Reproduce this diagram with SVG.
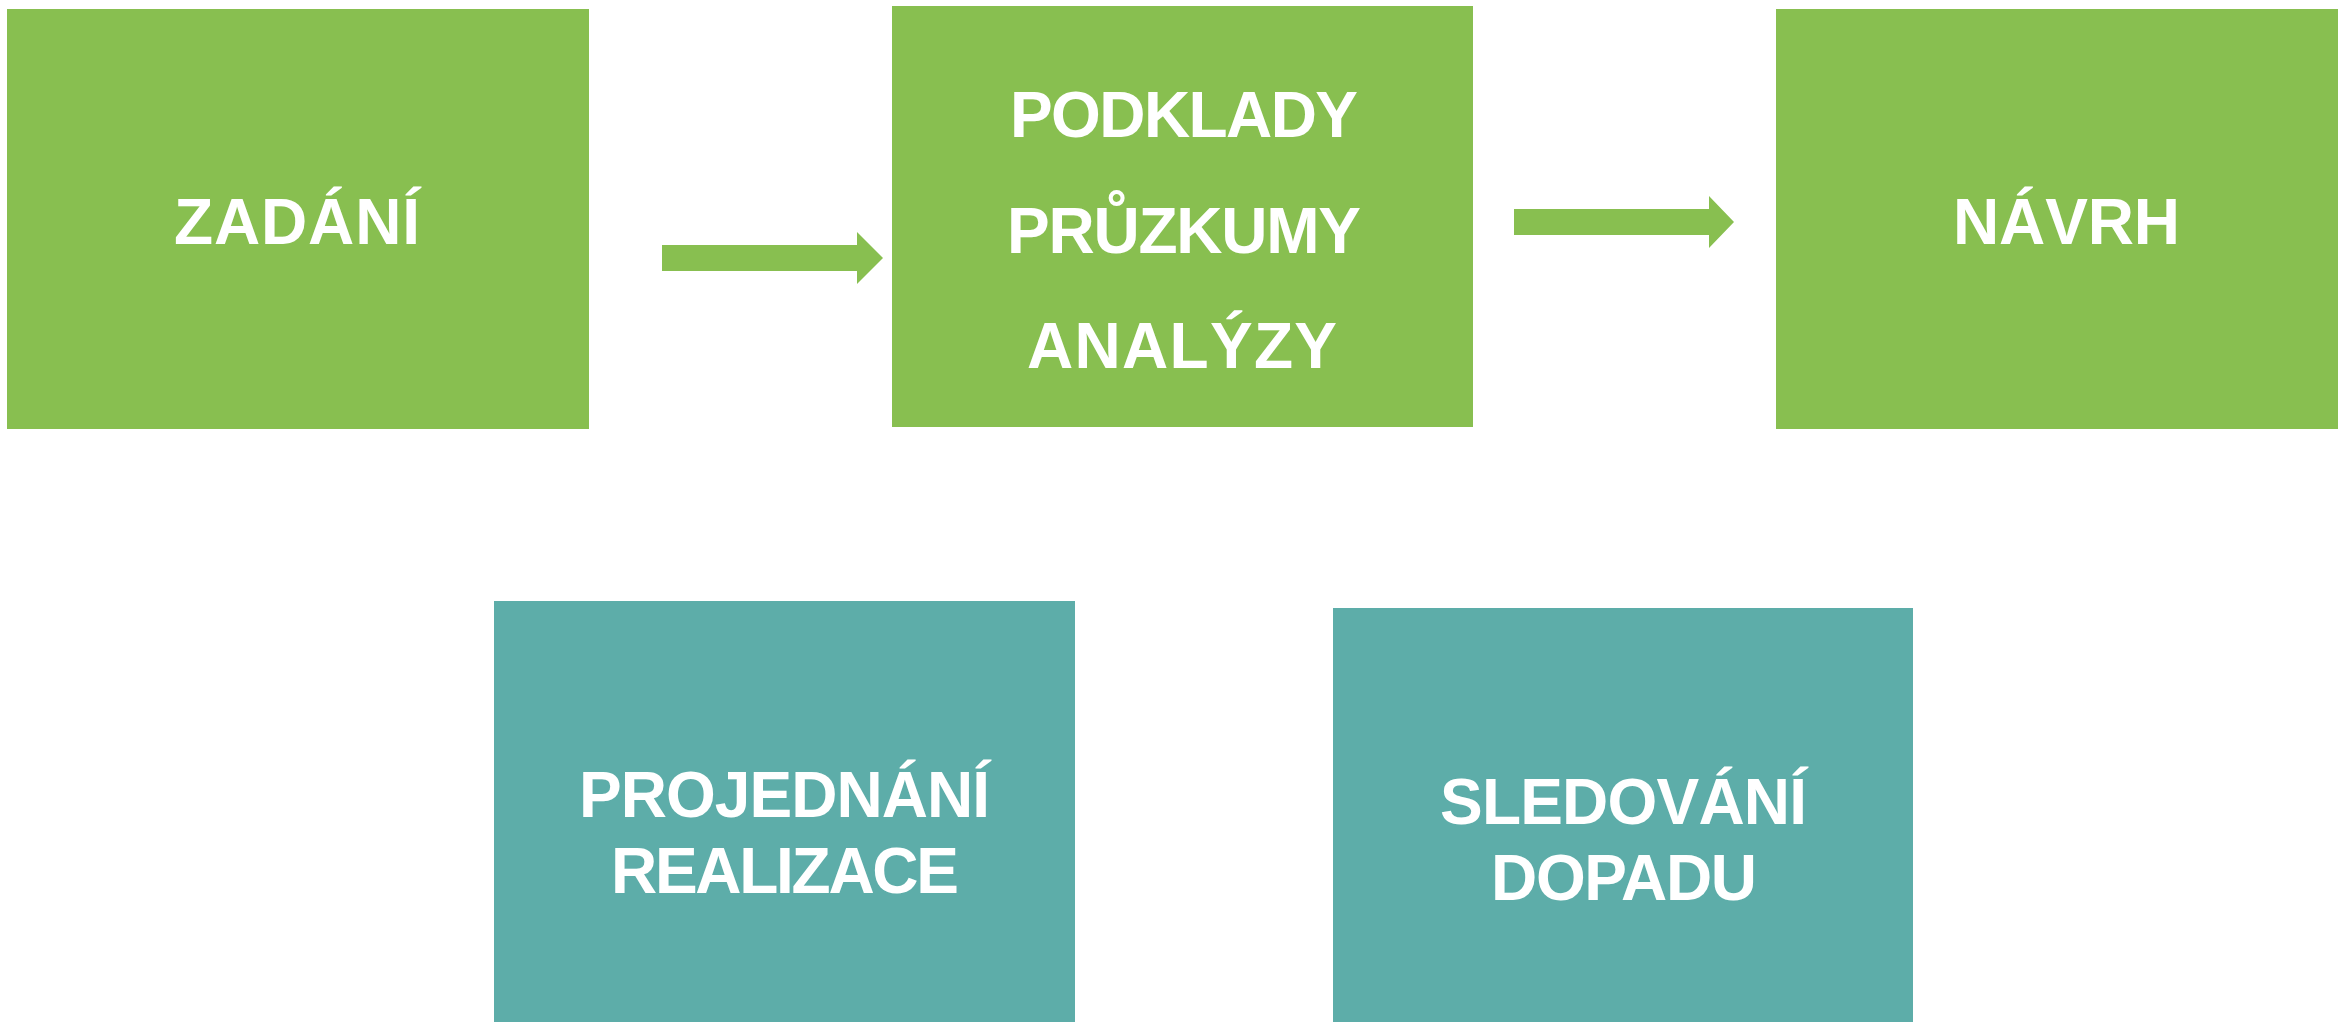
<svg xmlns="http://www.w3.org/2000/svg" width="2338" height="1023" viewBox="0 0 2338 1023">
<style>
.g{fill:#88BF50}
.t{fill:#5DADA9}
.l{fill:#FFFFFF;font-family:"Liberation Sans",Arial,sans-serif;font-weight:bold;font-size:64px}
.c{fill:#88BF50}
</style>
<rect width="2338" height="1023" fill="#FFFFFF"/>
<g id="connectors">
<polygon class="c" points="662,245 857,245 857,232 883,258 857,284 857,271 662,271"/>
<polygon class="c" points="1514,209 1709,209 1709,196 1734,222 1709,248 1709,235 1514,235"/>
</g>
<g id="zadani">
<rect class="g" x="7" y="9" width="582" height="420"/>
<text class="l" x="174" y="244" textLength="246">ZADÁNÍ</text>
</g>
<g id="podklady">
<rect class="g" x="892" y="6" width="581" height="421"/>
<text class="l" x="1010" y="137" textLength="348">PODKLADY</text>
<text class="l" x="1007" y="253" textLength="354">PRŮZKUMY</text>
<text class="l" x="1027" y="368" textLength="310">ANALÝZY</text>
</g>
<g id="navrh">
<rect class="g" x="1776" y="9" width="581" height="420"/>
<text class="l" x="1953" y="244" textLength="227">NÁVRH</text>
</g>
<g id="projednani">
<rect class="t" x="494" y="601" width="581" height="421"/>
<text class="l" x="579" y="817" textLength="411">PROJEDNÁNÍ</text>
<text class="l" x="611" y="893" textLength="348">REALIZACE</text>
</g>
<g id="sledovani">
<rect class="t" x="1333" y="608" width="580" height="414"/>
<text class="l" x="1440" y="824" textLength="367">SLEDOVÁNÍ</text>
<text class="l" x="1491" y="900" textLength="266">DOPADU</text>
</g>
</svg>
